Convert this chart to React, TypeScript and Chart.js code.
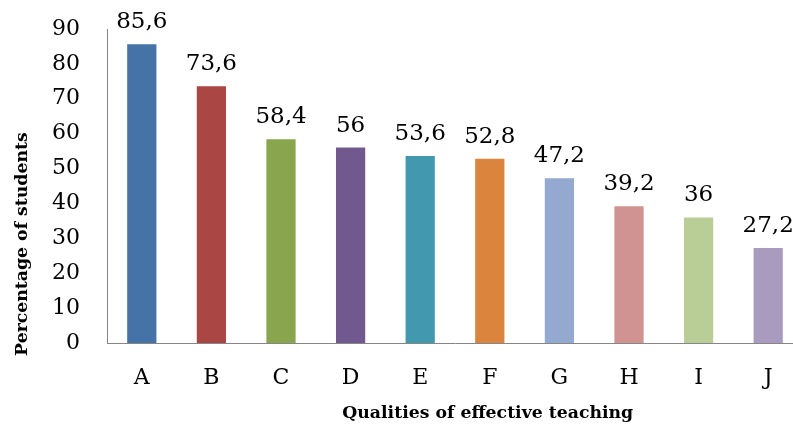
import React, { useEffect, useRef } from "react";
import { Chart, registerables } from "chart.js";

Chart.register(...registerables);

const categories = ["A", "B", "C", "D", "E", "F", "G", "H", "I", "J"];
const percentages = [85.6, 73.6, 58.4, 56, 53.6, 52.8, 47.2, 39.2, 36, 27.2];
const barColors = [
  "#4572A7",
  "#AA4643",
  "#89A54E",
  "#71588F",
  "#4198AF",
  "#DB843D",
  "#93A9CF",
  "#D19392",
  "#B9CD96",
  "#A99BBD",
];
const yMin = 0;
const yMax = 90;
const yStep = 10;
const xTitle = "Qualities of effective teaching";
const yTitle = "Percentage of students";

const SERIF = "'DejaVu Serif', serif";

const valueLabels = {
  id: "valueLabels",
  afterDatasetsDraw(chart: any) {
    const ctx = chart.ctx;
    const meta = chart.getDatasetMeta(0);
    ctx.save();
    ctx.font = `23px ${SERIF}`;
    ctx.fillStyle = "#000";
    ctx.textAlign = "center";
    ctx.textBaseline = "alphabetic";
    meta.data.forEach((bar: any, i: number) => {
      const v = chart.data.datasets[0].data[i];
      ctx.fillText(String(v).replace(".", ","), bar.x, bar.y - 16);
    });
    ctx.restore();
  },
};

const axisTitles = {
  id: "axisTitles",
  afterDraw(chart: any) {
    const ctx = chart.ctx;
    const area = chart.chartArea;
    ctx.save();
    ctx.font = `bold 17.3px ${SERIF}`;
    ctx.fillStyle = "#000";
    ctx.textAlign = "center";
    ctx.textBaseline = "alphabetic";
    // x-axis title
    const xc = area.left + (area.right - area.left) * 0.547;
    ctx.fillText(xTitle, xc, chart.height - 7);
    // y-axis title
    const yc = area.top + (area.bottom - area.top) * 0.685;
    ctx.translate(27, yc);
    ctx.rotate(-Math.PI / 2);
    ctx.fillText(yTitle, 0, 0);
    ctx.restore();
  },
};

export default function App() {
  const ref = useRef<HTMLCanvasElement>(null);

  useEffect(() => {
    if (!ref.current) return;
    const chart = new Chart(ref.current, {
      type: "bar",
      data: {
        labels: categories,
        datasets: [
          {
            data: percentages,
            backgroundColor: barColors,
            borderWidth: 0,
            barPercentage: 0.42,
            categoryPercentage: 1,
          },
        ],
      },
      options: {
        responsive: false,
        animation: false,
        layout: { padding: { top: 29, left: 0, right: 12, bottom: 0 } },
        plugins: {
          legend: { display: false },
          tooltip: { enabled: false },
        },
        scales: {
          x: {
            grid: { display: false, drawTicks: false },
            border: { display: true, color: "#868686", width: 1 },
            ticks: {
              color: "#000",
              font: { family: SERIF, size: 22 },
              padding: 22,
            },
            afterFit: (scale: any) => {
              scale.height = 82;
            },
          },
          y: {
            min: yMin,
            max: yMax,
            grid: { display: false, drawTicks: false },
            border: { display: true, color: "#868686", width: 1 },
            ticks: {
              stepSize: yStep,
              color: "#000",
              font: { family: SERIF, size: 22 },
              padding: 27,
            },
            afterFit: (scale: any) => {
              scale.width = 107;
              scale.paddingTop = 0;
              scale.paddingBottom = 0;
            },
          },
        },
      },
      plugins: [valueLabels, axisTitles],
    });
    return () => chart.destroy();
  }, []);

  return (
    <div
      style={{
        position: "fixed",
        left: 0,
        top: 0,
        width: 793,
        height: 425,
        overflow: "hidden",
        background: "#fff",
      }}
    >
      <canvas ref={ref} width={815} height={425} style={{ display: "block" }} />
    </div>
  );
}
